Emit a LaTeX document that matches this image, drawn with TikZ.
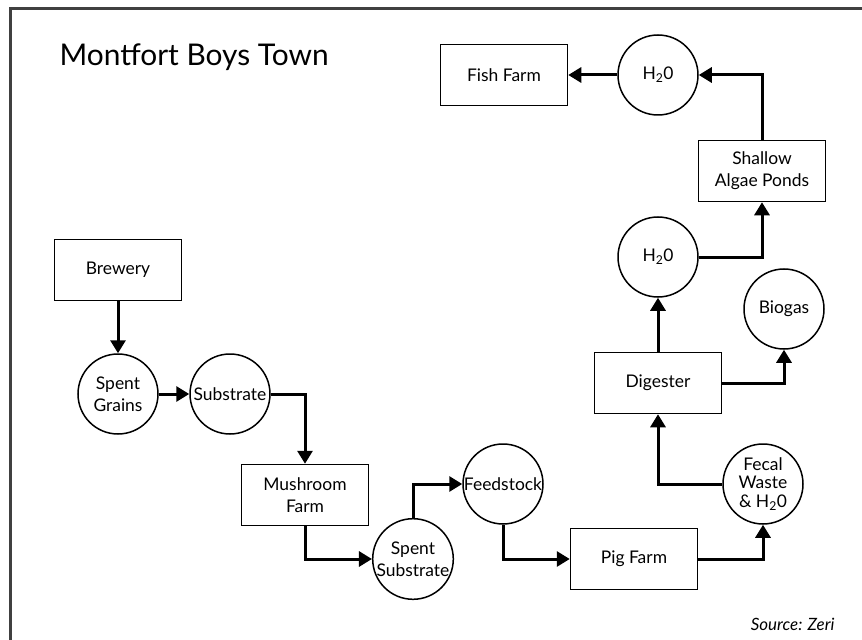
\documentclass[tikz,border=0pt]{standalone}
\usepackage{fontspec}
\setmainfont{Lato}
\usetikzlibrary{arrows.meta,positioning}

\tikzset{
    stage/.style={
        rectangle,
        draw,
        line width=1.5bp,
        minimum width=127bp,
        minimum height=61bp,
        inner sep=2bp,
        align=center
    },
    flow/.style={
        circle,
        draw,
        line width=1.5bp,
        minimum size=80bp,
        inner sep=0pt,
        align=center
    },
    link/.style={line width=3bp, -{Triangle[length=13bp,width=15bp]}}
}

\begin{document}
\begin{tikzpicture}[
    x=1bp, y=-1bp,
    every node/.style={font=\fontsize{17.5}{22}\selectfont}
]
\useasboundingbox (0,0) rectangle (862,640);

% Frame (cut at right and bottom)
\draw[line width=3bp, black!75] (862,9) -- (10,9) -- (10,640);

% Title
\node[anchor=base west, font=\fontsize{30}{36}\selectfont] (title) at (56,66) {Montfort Boys Town};

% Brewery side
\node[stage] (brewery) at (118,270) {Brewery};
\node[flow] (grains) at (118,394) {Spent\\Grains};
\node[flow] (substrate) at (230,394) {Substrate};
\node[stage] (mushroom) at (305,495) {Mushroom\\Farm};
\node[flow] (spent) at (413,559) {Spent\\Substrate};
\node[flow] (feedstock) at (503,484) {Feedstock};
\node[stage] (pigfarm) at (634,559) {Pig Farm};

% Digester side
\node[flow, font=\fontsize{17.5}{19}\selectfont] (fecal) at (763,484) {Fecal\\Waste\\\& H\textsubscript{2}0};
\node[stage] (digester) at (658,383) {Digester};
\node[flow] (biogas) at (784,309) {Biogas};
\node[flow] (waterlow) at (658,257) {H\textsubscript{2}0};
\node[stage] (ponds) at (762,171) {Shallow\\Algae Ponds};
\node[flow] (watertop) at (658,75) {H\textsubscript{2}0};
\node[stage] (fishfarm) at (504,75) {Fish Farm};

% Source
\node[anchor=base east, font=\itshape\fontsize{17}{20}\selectfont] (source) at (838,630) {Source: Zeri};

% Flows
\draw[link] (brewery) -- (grains);
\draw[link] (grains) -- (substrate);
\draw[link] (substrate.east) -| (mushroom.north);
\draw[link] (mushroom.south) |- (spent.west);
\draw[link] (spent.north) |- (feedstock.west);
\draw[link] (feedstock.south) |- (pigfarm.west);
\draw[link] (pigfarm.east) -| (fecal.south);
\draw[link] (fecal.west) -| (digester.south);
\draw[link] (digester.east) -| (biogas.south);
\draw[link] (digester.north) -- (waterlow.south);
\draw[link] (waterlow.east) -| (ponds.south);
\draw[link] (ponds.north) |- (watertop.east);
\draw[link] (watertop.west) -- (fishfarm.east);

\end{tikzpicture}
\end{document}
